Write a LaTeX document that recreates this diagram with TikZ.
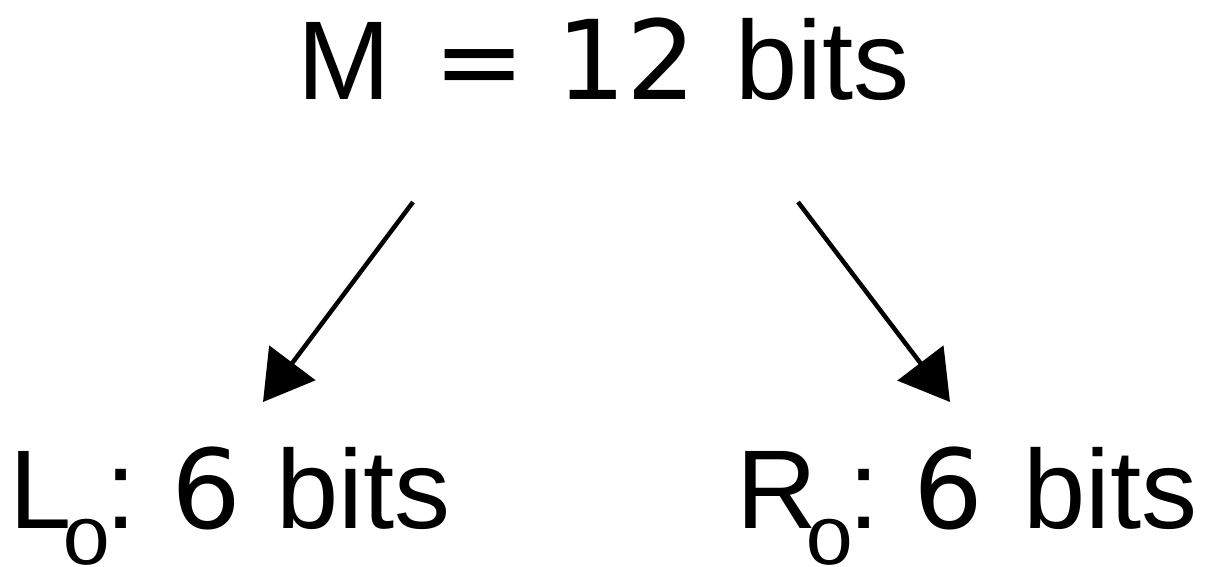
\documentclass[tikz,border=0pt]{standalone}
\usepackage{fontspec}
\usetikzlibrary{arrows.meta}
\setmainfont{Liberation Sans}
\newfontfamily\dv{DejaVu Sans}
\newcommand\dig[1]{{\dv\fontsize{110}{120}\selectfont #1}}
\newcommand\subz{\raisebox{-36pt}{\dv\fontsize{61}{61}\selectfont\scalebox{1.3}[1]{0}}}
\begin{document}
\begin{tikzpicture}[x=1pt,y=-1pt,
  lbl/.style={anchor=base west,inner sep=0pt,font=\fontsize{112}{120}\selectfont},
  arr/.style={line width=4.5pt,-{Triangle[length=49pt,width=57pt]}}]
\useasboundingbox (0,0) rectangle (1207,567);
\fill[white] (0,0) rectangle (1207,567);
\node[lbl] (m) at (297,100) {\rlap{M}\hspace{136pt}\rlap{\dig{=}}\hspace{123pt}\rlap{\dig{12}}\hspace{179pt}bits};
\node[lbl] (l) at (9,528) {\rlap{L}\hspace{52pt}\rlap{\subz}\hspace{44pt}\rlap{:}\hspace{66pt}\rlap{\dig{6}}\hspace{105pt}bits};
\node[lbl] (r) at (736,528) {\rlap{R}\hspace{68pt}\rlap{\subz}\hspace{44pt}\rlap{:}\hspace{65pt}\rlap{\dig{6}}\hspace{110pt}bits};
\coordinate (ml) at (413,202);
\coordinate (mr) at (798,202);
\coordinate (lt) at (263,402);
\coordinate (rt) at (950,402);
\draw[arr] (ml) -- (lt);
\draw[arr] (mr) -- (rt);
\end{tikzpicture}
\end{document}
